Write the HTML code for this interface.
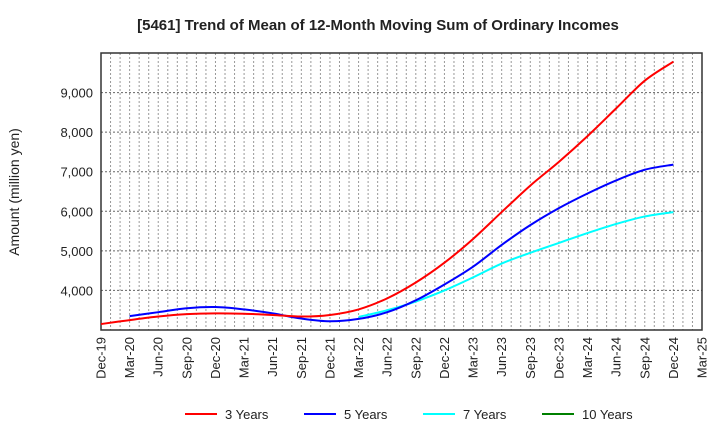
<!DOCTYPE html>
<html><head><meta charset="utf-8"><style>
body{margin:0;background:#fff;font-family:"Liberation Sans",sans-serif}
svg text{font-family:"Liberation Sans",sans-serif;fill:#222}
</style></head><body>
<svg id="c" width="720" height="440"></svg>
<script>
const categories=["Dec-19","Mar-20","Jun-20","Sep-20","Dec-20","Mar-21","Jun-21","Sep-21","Dec-21","Mar-22","Jun-22","Sep-22","Dec-22","Mar-23","Jun-23","Sep-23","Dec-23","Mar-24","Jun-24","Sep-24","Dec-24","Mar-25"];
const yTicks=[4000,5000,6000,7000,8000,9000];
const s3=[3150,3250,3340,3400,3420,3410,3380,3340,3380,3520,3800,4200,4700,5300,5980,6650,7250,7900,8600,9300,9780];
const s5=[null,3350,3450,3550,3580,3520,3420,3290,3220,3280,3450,3750,4150,4600,5150,5650,6080,6450,6780,7050,7180];
const s7=[null,null,null,null,null,null,null,null,null,3330,3500,3720,4000,4330,4680,4950,5200,5450,5680,5870,5980];
const s10=[];
const L=101,R=702,T=53,B=330,yMin=3000,yMax=10000;
const svg=document.getElementById('c');const NS='http://www.w3.org/2000/svg';
function el(t,a,p){const e=document.createElementNS(NS,t);for(const k in a)e.setAttribute(k,a[k]);(p||svg).appendChild(e);return e;}
const xMonth=m=>L+(R-L)*m/63;
const xq=i=>xMonth(i*3);
const y=v=>B-(v-yMin)/(yMax-yMin)*(B-T);
for(let m=1;m<63;m++){const g=el('line',{x1:xMonth(m),x2:xMonth(m),y1:T,y2:B,stroke:'#999','stroke-dasharray':'2,2','stroke-width':1});

}
yTicks.forEach(v=>{const g=el('line',{x1:L,x2:R,y1:y(v),y2:y(v),stroke:'#666','stroke-dasharray':'2,2'});


const t=el('text',{x:L-8,y:y(v)+5,'text-anchor':'end','font-size':13});t.textContent=v.toLocaleString('en-US');

});
const fr=el('rect',{x:L,y:T,width:R-L,height:B-T,fill:'none',stroke:'#333','stroke-width':1.5});


categories.forEach((c,i)=>{const t=el('text',{transform:`translate(${xq(i)+4.5},${B+7}) rotate(-90)`,'text-anchor':'end','font-size':13});t.textContent=c;

});
function path(data,color,name){const pts=[];data.forEach((v,i)=>{if(v!=null)pts.push([xq(i),y(v)]);});if(pts.length<2)return;
let d=`M${pts[0][0]},${pts[0][1]}`;for(let i=0;i<pts.length-1;i++){const p0=pts[Math.max(0,i-1)],p1=pts[i],p2=pts[i+1],p3=pts[Math.min(pts.length-1,i+2)];
d+=`C${p1[0]+(p2[0]-p0[0])/6},${p1[1]+(p2[1]-p0[1])/6} ${p2[0]-(p3[0]-p1[0])/6},${p2[1]-(p3[1]-p1[1])/6} ${p2[0]},${p2[1]}`;}
const p=el('path',{d:d,fill:'none',stroke:color,'stroke-width':2});

}
path(s7,'#00ffff','line-7-years');path(s5,'#0000ff','line-5-years');path(s3,'#ff0000','line-3-years');path(s10,'#008000','line-10-years');
const title=el('text',{x:378,y:30,'text-anchor':'middle','font-size':15,'font-weight':'bold'});title.textContent='[5461]  Trend of Mean of 12-Month Moving Sum of Ordinary Incomes';


const yt=el('text',{transform:'translate(19,192) rotate(-90)','text-anchor':'middle','font-size':14});yt.textContent='Amount (million yen)';


[['3 Years','#ff0000',185],['5 Years','#0000ff',304],['7 Years','#00ffff',423],['10 Years','#008000',542]].forEach(([n,c,x])=>{
const g=el('g',{});


el('line',{x1:x,x2:x+32,y1:414,y2:414,stroke:c,'stroke-width':2},g);
const t=el('text',{x:x+40,y:419,'font-size':13},g);t.textContent=n;});
</script>
</body></html>
